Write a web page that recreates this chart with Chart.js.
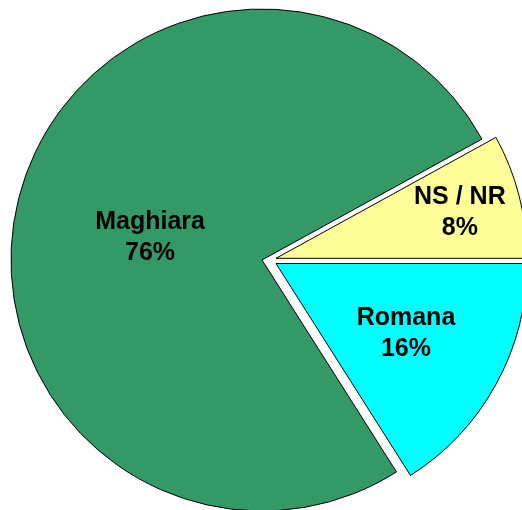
<!DOCTYPE html>
<html>
<head>
<meta charset="utf-8">
<script src="https://cdn.jsdelivr.net/npm/chart.js@4/dist/chart.umd.min.js"></script>
<style>
  body { margin: 0; background: #fff; }
  canvas { display: block; }
</style>
</head>
<body>
<canvas id="pieChart" width="522" height="510"></canvas>
<script>
// slices, clockwise from 3 o'clock
const categories = ['Romana', 'Maghiara', 'NS / NR'];
const percentages = [16, 76, 8];
const sliceColors = ['#00FFFF', '#339966', '#FFFF99'];
// how far (px) each slice is pulled out of the pie
const explodeX = [14, 0, 14];
const explodeY = [3.5, 0, -1.7];
// label placement: fraction of radius along the bisector, plus a small angle nudge (deg)
const labelDepth = [0.587, 0.455, 0.755];
const labelTurn = [-0.7, -3, 0.4];

// chart.js "offset" also grows the slice radius, so pull slices out by hand instead
const explodeSlices = {
  id: 'explodeSlices',
  beforeDatasetDraw(chart, args) {
    const ctx = chart.ctx;
    args.meta.data.forEach((arc, i) => {
      ctx.save();
      ctx.translate(explodeX[i], explodeY[i]);
      arc.draw(ctx);
      ctx.restore();
    });
    return false;
  }
};

const sliceLabels = {
  id: 'sliceLabels',
  afterDatasetsDraw(chart) {
    const ctx = chart.ctx;
    const meta = chart.getDatasetMeta(0);
    ctx.save();
    ctx.fillStyle = '#000';
    ctx.font = 'bold 25px "Liberation Sans", Arial, sans-serif';
    ctx.textAlign = 'center';
    ctx.textBaseline = 'middle';
    meta.data.forEach((arc, i) => {
      const p = arc.getProps(['x', 'y', 'startAngle', 'endAngle', 'outerRadius']);
      const mid = (p.startAngle + p.endAngle) / 2;
      const a = mid + labelTurn[i] * Math.PI / 180;
      const dist = labelDepth[i] * p.outerRadius;
      const x = p.x + explodeX[i] + Math.cos(a) * dist;
      const y = p.y + explodeY[i] + Math.sin(a) * dist;
      ctx.fillText(categories[i], x, y - 15);
      ctx.fillText(percentages[i] + '%', x, y + 16);
    });
    ctx.restore();
  }
};

new Chart(document.getElementById('pieChart'), {
  type: 'pie',
  data: {
    labels: categories,
    datasets: [{
      data: percentages,
      backgroundColor: sliceColors,
      borderColor: '#000',
      borderWidth: 1,
      clip: false
    }]
  },
  options: {
    responsive: false,
    animation: false,
    rotation: 90,
    radius: 251,
    layout: { padding: { top: 10, left: 2 } },
    plugins: {
      legend: { display: false },
      tooltip: { enabled: false }
    }
  },
  plugins: [explodeSlices, sliceLabels]
});
</script>
</body>
</html>
